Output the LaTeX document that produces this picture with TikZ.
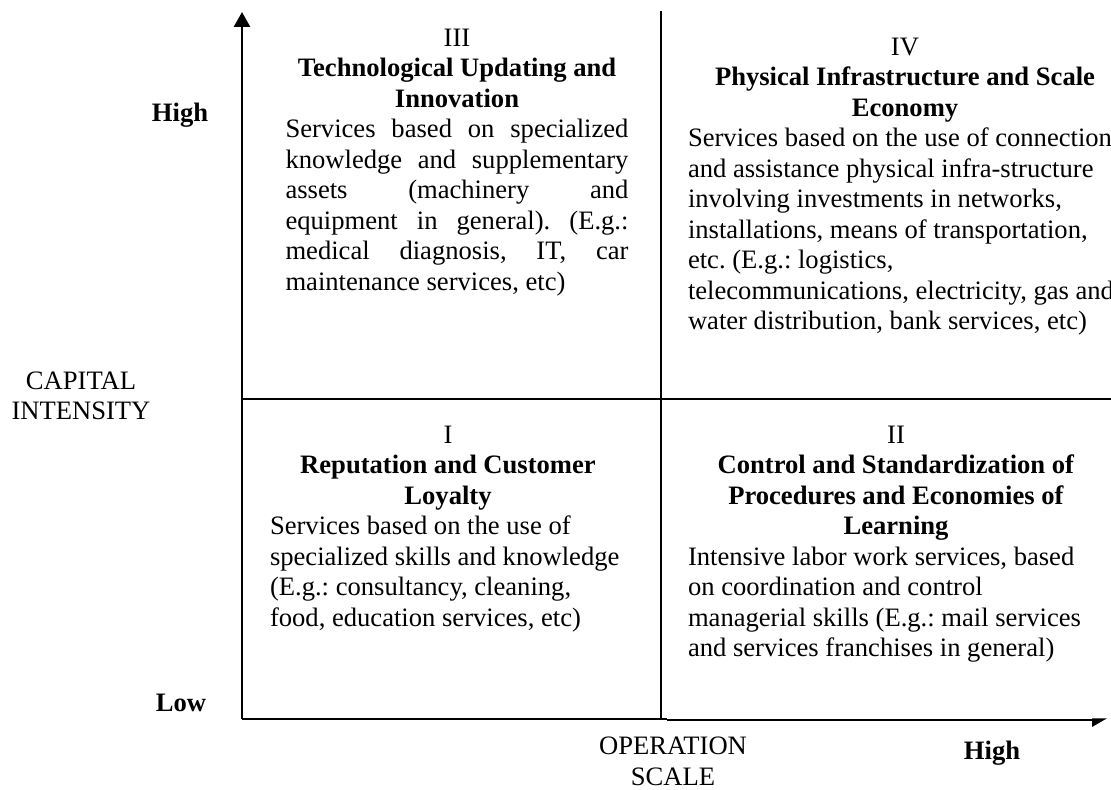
\documentclass[tikz,border=0pt]{standalone}
\usepackage{fontspec}
\setmainfont{Liberation Serif}
\usetikzlibrary{arrows.meta}
\frenchspacing
\begin{document}
\begin{tikzpicture}[x=0.5pt,y=-0.5pt,
  txt/.style={inner sep=0pt, font=\fontsize{13.3}{15.25}\selectfont},
  quad/.style={txt, anchor=north, align=center},
  axisline/.style={line width=1.35pt},
  gridline/.style={line width=1pt}]
\useasboundingbox (0,0) rectangle (1111,790);

% axes and grid
\coordinate (O) at (242,719);
\coordinate (Ytop) at (242,12);
\coordinate (Xmid) at (667,719);
\coordinate (Xend) at (1093,720);
\coordinate (Xmidthin) at (667,720);
\coordinate (Vtop) at (661,11);
\coordinate (Vbot) at (661,719);
\coordinate (Hl) at (242,399);
\coordinate (Hr) at (1111,399);

\draw[axisline, -{Triangle[length=7.5pt,width=8pt]}] (O) -- (Ytop);
\draw[axisline] (O) -- (Xmid);
\draw[gridline] (Xmidthin) -- (Xend);
\fill (1092,718.3) -- (1107,718.3) -- (1092,727) -- cycle;
\draw[gridline] (Vtop) -- (Vbot);
\draw[gridline] (Hl) -- (Hr);

% quadrants
\node[quad] (q3) at (457,24.6) {\strut III\\
\textbf{Technological Updating and}\\
\textbf{Innovation}\\
\makebox[171.5pt][s]{Services based on specialized}\\
\makebox[171.5pt][s]{knowledge and supplementary}\\
\makebox[171.5pt][s]{assets (machinery and}\\
\makebox[171.5pt][s]{equipment in general). (E.g.:}\\
\makebox[171.5pt][s]{medical diagnosis, IT, car}\\
\makebox[171.5pt][l]{maintenance services, etc)}};

\node[quad] (q4) at (905,33.6) {\strut IV\\
\textbf{Physical Infrastructure and Scale}\\
\textbf{Economy}\\
\makebox[217pt][l]{Services based on the use of connection}\\
\makebox[217pt][l]{and assistance physical infra-structure}\\
\makebox[217pt][l]{involving investments in networks,}\\
\makebox[217pt][l]{installations, means of transportation,}\\
\makebox[217pt][l]{etc. (E.g.: logistics,}\\
\makebox[217pt][l]{telecommunications, electricity, gas and}\\
\makebox[217pt][l]{water distribution, bank services, etc)}};

\node[quad] (q1) at (448,421.6) {\strut I\\
\textbf{Reputation and Customer}\\
\textbf{Loyalty}\\
\makebox[178pt][l]{Services based on the use of}\\
\makebox[178pt][l]{specialized skills and knowledge}\\
\makebox[178pt][l]{(E.g.: consultancy, cleaning,}\\
\makebox[178pt][l]{food, education services, etc)}};

\node[quad] (q2) at (896,421.6) {\strut II\\
\textbf{Control and Standardization of}\\
\textbf{Procedures and Economies of}\\
\textbf{Learning}\\
\makebox[208pt][l]{Intensive labor work services, based}\\
\makebox[208pt][l]{on coordination and control}\\
\makebox[208pt][l]{managerial skills (E.g.: mail services}\\
\makebox[208pt][l]{and services franchises in general)}};

% axis labels
\node[txt, anchor=base] (yhigh) at (180,122) {\textbf{High}};
\node[txt, anchor=base] (ylow) at (181,711) {\textbf{Low}};
\node[quad] (ylab) at (81,367.6) {\strut CAPITAL\\INTENSITY};
\node[quad] (xlab) at (673,733) {\strut OPERATION\\SCALE};
\node[txt, anchor=base] (xhigh) at (992,759) {\textbf{High}};
\end{tikzpicture}
\end{document}
